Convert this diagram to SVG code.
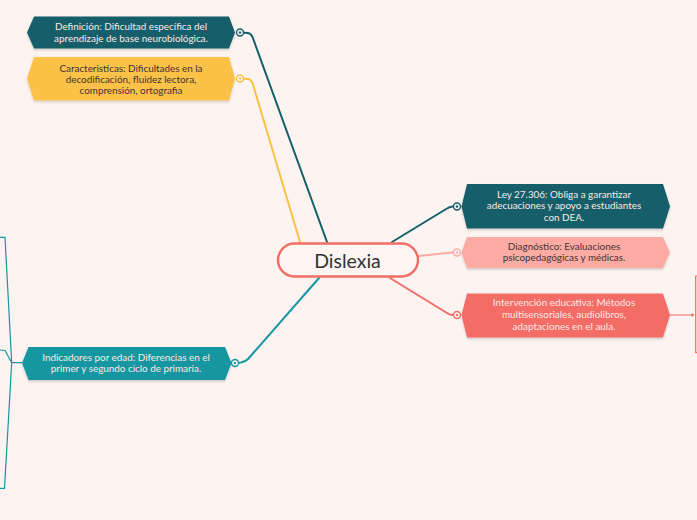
<svg xmlns="http://www.w3.org/2000/svg" width="697" height="520" viewBox="0 0 697 520">
<defs>
<filter id="sh" x="-10%" y="-20%" width="120%" height="150%">
<feDropShadow dx="0" dy="1.5" stdDeviation="1.2" flood-color="#000" flood-opacity="0.18"/>
</filter>
</defs>
<style>
.t{font-family:Lato,"Open Sans",sans-serif;font-size:9.9px;text-anchor:middle}
.lt{fill:#fde9e5}
.dk{fill:#3b3434}
.c{fill:none;stroke-width:2;stroke-linecap:round;stroke-linejoin:round}
.dot{fill:#fff5f3;stroke-width:1.4}
</style>
<rect width="697" height="520" fill="#fdf3f1"/>
<g id="connectors">
<path class="c" stroke="#135f6a" d="M240,32.5 L248,33 Q251,33.5 252.5,37 L327,242"/>
<path class="c" stroke="#fcc246" d="M240,78.5 L248,79 Q251,79.5 252.5,83 L300,242"/>
<path class="c" stroke="#135f6a" d="M392,242 L447,208.5 Q450,206.5 453,206.5 L457,206.5"/>
<path class="c" stroke="#fdaba3" d="M419,256 L452,252.5 L457,252.5"/>
<path class="c" stroke="#f46c66" d="M390,278 L447,313 Q450,315 453,315 L457,315"/>
<path class="c" stroke="#1896a1" d="M235,363 L241,362.5 Q245,362 248,359 L319,278"/>
<path fill="none" stroke="#f46c66" stroke-width="1.2" d="M670,315 L692,315 M697,276 L695.7,276 L695.7,352.7 L697,352.7"/>
<circle cx="692.5" cy="315" r="1.4" fill="#f46c66"/>
<path fill="none" stroke="#1896a1" stroke-width="1.2" d="M22,362.7 L11.7,362.7 M0,237.3 L5,237.3 L11.7,362.7 L4.5,488.3 L0,488.3 M0,350 L5,350.5 L11.7,362.7"/>
<circle class="dot" cx="240" cy="32.5" r="3.5" stroke="#135f6a"/><circle cx="240" cy="32.5" r="1.2" fill="#135f6a"/>
<circle class="dot" cx="240" cy="78.5" r="3.5" stroke="#fcc246"/><circle cx="240" cy="78.5" r="1.2" fill="#fcc246"/>
<circle class="dot" cx="457" cy="206.5" r="3.5" stroke="#135f6a"/><circle cx="457" cy="206.5" r="1.2" fill="#135f6a"/>
<circle class="dot" cx="457" cy="252.5" r="3.5" stroke="#fdaba3"/><circle cx="457" cy="252.5" r="1.2" fill="#fdaba3"/>
<circle class="dot" cx="457" cy="315" r="3.5" stroke="#f46c66"/><circle cx="457" cy="315" r="1.2" fill="#f46c66"/>
<circle class="dot" cx="235" cy="363" r="3.5" stroke="#1896a1"/><circle cx="235" cy="363" r="1.2" fill="#1896a1"/>
</g>
<g id="central">
<rect x="278" y="243.5" width="140" height="33" rx="16.5" fill="#fff6f4" stroke="#f46c66" stroke-width="2.4"/>
<text x="347.5" y="267.5" font-family="Lato,'Open Sans',sans-serif" font-size="19.5" fill="#333" text-anchor="middle">Dislexia</text>
</g>
<g id="definicion">
<polygon points="27,32.5 34,16.5 229,16.5 235,32.5 229,48.5 34,48.5" fill="#135f6a" filter="url(#sh)"/>
<text class="t lt" x="131" y="30">Definición: Dificultad específica del</text>
<text class="t lt" x="131" y="41.7">aprendizaje de base neurobiológica.</text>
</g>
<g id="caracteristicas">
<polygon points="27,78.5 34,57 229,57 235,78.5 229,100.5 34,100.5" fill="#fcc246" filter="url(#sh)"/>
<text class="t dk" x="131" y="71.5">Caracteristicas: Dificultades en la</text>
<text class="t dk" x="131" y="83">decodificación, fluidez lectora,</text>
<text class="t dk" x="131" y="94.3">comprensión, ortografia</text>
</g>
<g id="ley">
<polygon points="461.5,206.5 467,184 663,184 670,206.5 663,228.5 467,228.5" fill="#135f6a" filter="url(#sh)"/>
<text class="t lt" x="564" y="197.7">Ley 27.306: Obliga a garantizar</text>
<text class="t lt" x="564" y="209.3">adecuaciones y apoyo a estudiantes</text>
<text class="t lt" x="564" y="220.8">con DEA.</text>
</g>
<g id="diagnostico">
<polygon points="461.5,252.5 467,237 663,237 670,252.5 663,268 467,268" fill="#fdaba3" filter="url(#sh)"/>
<text class="t dk" x="564" y="249.5">Diagnóstico: Evaluaciones</text>
<text class="t dk" x="564" y="261">psicopedagógicas y médicas.</text>
</g>
<g id="intervencion">
<polygon points="461.5,315 467,293.5 663,293.5 670,315 663,337.5 467,337.5" fill="#f46c66" filter="url(#sh)"/>
<text class="t lt" x="564" y="306.2">Intervención educativa: Métodos</text>
<text class="t lt" x="564" y="318.3">multisensoriales, audiolibros,</text>
<text class="t lt" x="564" y="330">adaptaciones en el aula.</text>
</g>
<g id="indicadores">
<polygon points="22,363 28.5,347 225,347 231.5,363 225,380 28.5,380" fill="#1896a1" filter="url(#sh)"/>
<text class="t lt" x="126" y="360.7">Indicadores por edad: Diferencias en el</text>
<text class="t lt" x="126" y="371.5">primer y segundo ciclo de primaria.</text>
</g>
</svg>
